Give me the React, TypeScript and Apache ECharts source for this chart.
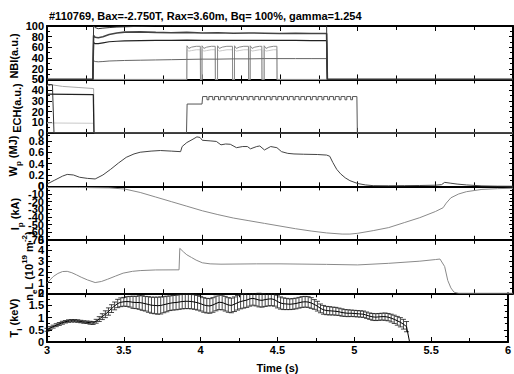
import React, { useEffect, useRef } from "react";
import * as echarts from "echarts";

const FONT = "'Liberation Sans', Arial, sans-serif";

// ---------- NBI (a.u.) ----------
const nbiT = [3.0, 3.295, 3.3, 3.31, 3.33, 3.36, 3.4, 3.45, 3.5, 3.6, 3.7, 3.8, 3.9, 4.0, 4.1, 4.2, 4.3, 4.4, 4.5, 4.6, 4.7, 4.8, 4.805, 6.0];
const nbiA = [0, 0, 100, 97, 95, 96, 97, 98, 98.5, 99.5, 101, 101, 101, 101, 101, 101, 101, 101, 101, 101, 101, 101, 0, 0];
const nbiB = [0, 0, 82, 79, 78, 80, 84, 87, 88.5, 89, 88, 87.5, 88, 87, 87.5, 86.5, 87, 86.5, 86, 86.5, 86, 86, 0, 0];
const nbiC = [0, 0, 69, 67, 67, 68.5, 70.5, 71.5, 72, 72.5, 73, 73, 73.5, 73, 73, 73, 73, 73, 73, 73, 72.8, 72.8, 0, 0];
const nbiD = [0, 0, 35, 33.5, 33, 33.5, 34.5, 35, 35.5, 36, 36.5, 37, 37.5, 38, 38, 38.5, 38.5, 39, 39, 39, 39, 39, 0, 0];
const nbiPulseOn = [3.901, 3.998, 4.098, 4.207, 4.308, 4.398];
const nbiPulseOff = [3.987, 4.083, 4.194, 4.297, 4.383, 4.48];
const pulseDt = [0, 0.012, 0.03, 0.06];
const pulseHi = [63, 58, 60.5, 62];
const pulseLo = [56, 53, 54, 55.5];

// ---------- ECH (a.u.) ----------
const echDarkT = [3.0, 3.298, 3.302, 6.0];
const echDarkV = [36.3, 35.8, 0, 0];
const echLightT = [3.0, 3.03, 3.1, 3.2, 3.3, 3.305, 6.0];
const echLightV = [44, 45, 43.5, 42.5, 41.5, 0, 0];
const echShortT = [3.0, 3.035, 3.045, 6.0];
const echShortV = [45.5, 45, 0, 0];
const echLowT = [3.0, 3.3, 3.305, 6.0];
const echLowV = [9.3, 9.0, 0, 0];
const echStartT = [3.0, 3.898, 3.902, 3.998, 4.002];
const echStartV = [0, 0, 27, 27, 34];
const echDips = [4.03, 4.067, 4.104, 4.141, 4.178, 4.215, 4.252, 4.289, 4.326, 4.363, 4.4, 4.437, 4.474, 4.511, 4.548, 4.585, 4.622, 4.659, 4.696, 4.733, 4.77, 4.807, 4.844, 4.881, 4.918, 4.955];
const echHigh = 34;
const echLow = 31;
const echDipWidth = 0.012;
const echEndT = [4.995, 4.998, 6.0];
const echEndV = [34, 0, 0];

// ---------- Wp (MJ) ----------
const wpT = [3.0, 3.05, 3.1, 3.13, 3.17, 3.21, 3.26, 3.31, 3.36, 3.41, 3.46, 3.51, 3.56, 3.6, 3.67, 3.73, 3.8, 3.86, 3.87, 3.9, 3.94, 3.965, 3.985, 4.0, 4.05, 4.09, 4.12, 4.15, 4.18, 4.22, 4.26, 4.29, 4.31, 4.35, 4.37, 4.4, 4.44, 4.48, 4.51, 4.55, 4.59, 4.65, 4.74, 4.8, 4.82, 4.84, 4.865, 4.89, 4.92, 4.95, 5.0, 5.05, 5.1, 5.2, 5.3, 5.4, 5.5, 5.54, 5.56, 5.6, 5.64, 5.7, 5.8, 5.9, 6.0];
const wpV = [0.04, 0.11, 0.18, 0.21, 0.2, 0.16, 0.14, 0.13, 0.2, 0.3, 0.41, 0.51, 0.57, 0.6, 0.62, 0.63, 0.62, 0.61, 0.7, 0.77, 0.83, 0.87, 0.86, 0.81, 0.8, 0.79, 0.73, 0.745, 0.74, 0.68, 0.7, 0.7, 0.66, 0.7, 0.71, 0.64, 0.7, 0.68, 0.61, 0.58, 0.57, 0.565, 0.56, 0.55, 0.53, 0.42, 0.3, 0.22, 0.15, 0.1, 0.05, 0.025, 0.012, 0.01, 0.012, 0.015, 0.02, 0.03, 0.07, 0.055, 0.04, 0.025, 0.008, 0.003, 0.002];

// ---------- Ip (kA) ----------
const ipT = [3.0, 3.2, 3.4, 3.5, 3.6, 3.7, 3.8, 3.9, 4.0, 4.1, 4.2, 4.3, 4.4, 4.5, 4.6, 4.7, 4.8, 4.9, 4.95, 5.0, 5.1, 5.2, 5.3, 5.4, 5.5, 5.55, 5.57, 5.6, 5.65, 5.7, 5.8, 5.9, 6.0];
const ipV = [-1.5, -1.5, -2, -3.5, -8, -14, -20, -26, -32, -37, -41.5, -45, -48.5, -52, -55.5, -58.5, -61, -62.5, -62.5, -61.5, -58, -54, -47.5, -41, -33, -28, -22, -15, -10, -7, -4, -3, -2.5];

// ---------- neL (1e19 m^-2) ----------
const neT = [3.0, 3.02, 3.04, 3.07, 3.1, 3.13, 3.16, 3.19, 3.22, 3.26, 3.31, 3.35, 3.39, 3.44, 3.49, 3.55, 3.6, 3.7, 3.85, 3.855, 3.88, 3.9, 3.93, 3.96, 4.0, 4.05, 4.12, 4.35, 4.5, 4.8, 5.0, 5.2, 5.4, 5.5, 5.53, 5.56, 5.58, 5.6, 5.62, 5.65, 6.0];
const neV = [0.94, 1.25, 1.56, 1.85, 2.03, 2.05, 1.92, 1.72, 1.5, 1.25, 1.0, 1.1, 1.31, 1.6, 1.88, 2.05, 2.12, 2.18, 2.19, 4.2, 3.85, 3.6, 3.35, 3.1, 2.85, 2.75, 2.72, 2.75, 2.75, 2.7, 2.65, 2.8, 3.0, 3.15, 3.2, 2.5, 1.2, 0.5, 0.1, 0, 0];

// ---------- Ti (keV) with error bars ----------
const tiT = [3.0, 3.02, 3.04, 3.06, 3.08, 3.1, 3.12, 3.14, 3.16, 3.18, 3.2, 3.22, 3.24, 3.26, 3.28, 3.3, 3.32, 3.34, 3.36, 3.38, 3.4, 3.42, 3.44, 3.46, 3.48, 3.5, 3.52, 3.54, 3.56, 3.58, 3.6, 3.62, 3.64, 3.66, 3.68, 3.7, 3.72, 3.74, 3.76, 3.78, 3.8, 3.82, 3.84, 3.86, 3.88, 3.9, 3.92, 3.94, 3.96, 3.98, 4.0, 4.02, 4.04, 4.06, 4.08, 4.1, 4.12, 4.14, 4.16, 4.18, 4.2, 4.22, 4.24, 4.26, 4.28, 4.3, 4.32, 4.34, 4.36, 4.38, 4.4, 4.42, 4.44, 4.46, 4.48, 4.5, 4.52, 4.54, 4.56, 4.58, 4.6, 4.62, 4.64, 4.66, 4.68, 4.7, 4.72, 4.74, 4.76, 4.78, 4.8, 4.82, 4.84, 4.86, 4.88, 4.9, 4.92, 4.94, 4.96, 4.98, 5.0, 5.02, 5.04, 5.06, 5.08, 5.1, 5.12, 5.14, 5.16, 5.18, 5.2, 5.22, 5.24, 5.26, 5.28, 5.3, 5.32, 5.34];
const tiV = [0.5, 0.57, 0.63, 0.69, 0.74, 0.79, 0.83, 0.86, 0.87, 0.87, 0.86, 0.84, 0.82, 0.81, 0.79, 0.78, 0.85, 0.94, 1.04, 1.14, 1.25, 1.37, 1.48, 1.58, 1.63, 1.65, 1.66, 1.65, 1.63, 1.62, 1.62, 1.6, 1.57, 1.54, 1.51, 1.5, 1.49, 1.5, 1.53, 1.56, 1.59, 1.61, 1.62, 1.64, 1.66, 1.67, 1.67, 1.66, 1.64, 1.61, 1.57, 1.52, 1.49, 1.48, 1.52, 1.58, 1.63, 1.62, 1.57, 1.52, 1.5, 1.55, 1.61, 1.66, 1.69, 1.72, 1.77, 1.79, 1.76, 1.72, 1.71, 1.74, 1.76, 1.77, 1.74, 1.66, 1.6, 1.57, 1.56, 1.55, 1.56, 1.58, 1.61, 1.64, 1.65, 1.64, 1.6, 1.54, 1.47, 1.38, 1.32, 1.29, 1.28, 1.27, 1.26, 1.24, 1.21, 1.19, 1.18, 1.18, 1.17, 1.16, 1.15, 1.14, 1.1, 1.06, 1.03, 1.02, 1.03, 1.04, 1.04, 1.02, 0.98, 0.93, 0.87, 0.81, 0.73, 0.63];
const tiE = [0.06, 0.06, 0.06, 0.06, 0.06, 0.06, 0.05, 0.05, 0.05, 0.05, 0.05, 0.05, 0.05, 0.05, 0.06, 0.06, 0.08, 0.1, 0.12, 0.14, 0.15, 0.16, 0.16, 0.17, 0.18, 0.18, 0.2, 0.22, 0.25, 0.25, 0.28, 0.3, 0.3, 0.32, 0.33, 0.34, 0.35, 0.35, 0.33, 0.32, 0.3, 0.3, 0.3, 0.3, 0.3, 0.3, 0.3, 0.3, 0.3, 0.3, 0.3, 0.3, 0.3, 0.3, 0.3, 0.3, 0.3, 0.3, 0.3, 0.3, 0.3, 0.3, 0.3, 0.3, 0.3, 0.3, 0.3, 0.28, 0.28, 0.28, 0.28, 0.28, 0.28, 0.28, 0.27, 0.26, 0.25, 0.24, 0.23, 0.22, 0.22, 0.22, 0.22, 0.22, 0.22, 0.22, 0.22, 0.2, 0.2, 0.18, 0.18, 0.17, 0.17, 0.16, 0.16, 0.15, 0.15, 0.14, 0.14, 0.13, 0.13, 0.13, 0.13, 0.13, 0.13, 0.13, 0.14, 0.14, 0.14, 0.14, 0.15, 0.15, 0.16, 0.17, 0.18, 0.19, 0.2, 0.21];
const tiEndT = [5.34, 5.36, 6.0];
const tiEndV = [0.63, 0.0, 0.0];

// ---------- axes / tick labels ----------
const xTicks = { min: 3, max: 6, interval: 0.5 };
const yScales = [
  { min: 0, max: 100, interval: 20 },
  { min: 0, max: 50, interval: 10 },
  { min: 0, max: 0.94, interval: 0.2 },
  { min: -70, max: 0, interval: 10 },
  { min: 0, max: 5, interval: 1 },
  { min: 0, max: 2, interval: 0.5 },
];
const nbiTickLabels = ["0", "20", "40", "60", "80", "100"];
const echTickLabels = ["0", "10", "20", "30", "40", "50"];
const wpTickLabels = ["0", "0.2", "0.4", "0.6", "0.8"];
const ipTickLabels = ["-70", "-60", "-50", "-40", "-30", "-20", "-10", "0"];
const neTickLabels = ["0", "1", "2", "3", "4", "5"];
const tiTickLabels = ["0", "0.5", "1", "1.5", "2"];
const yTickLabels = [nbiTickLabels, echTickLabels, wpTickLabels, ipTickLabels, neTickLabels, tiTickLabels];
const titleText = "#110769, Bax=-2.750T, Rax=3.60m, Bq= 100%, gamma=1.254";

const zip = (t: number[], v: number[]) => t.map((x, i) => [x, v[i]]);

function buildPulses(levels: number[]) {
  const out: number[][] = [[3.0, 0], [nbiPulseOn[0] - 0.001, 0]];
  nbiPulseOn.forEach((on, i) => {
    out.push([on, 0]);
    pulseDt.forEach((dt, k) => out.push([on + dt, levels[k]]));
    out.push([nbiPulseOff[i], levels[levels.length - 1]]);
    out.push([nbiPulseOff[i] + 0.001, 0]);
  });
  out.push([6.0, 0]);
  return out;
}

function buildEch() {
  const out: number[][] = zip(echStartT, echStartV);
  echDips.forEach((d) => {
    out.push([d, echHigh]);
    out.push([d, echLow]);
    out.push([d + echDipWidth, echLow]);
    out.push([d + echDipWidth, echHigh]);
  });
  return out.concat(zip(echEndT, echEndV));
}

const PANEL_TOP = 26;
const PANEL_H = 53.45;

export default function App() {
  const ref = useRef<HTMLDivElement>(null);
  useEffect(() => {
    const chart = echarts.init(ref.current!, null, { renderer: "svg" });
    const grids = yScales.map((_, i) => ({
      left: 47,
      right: 1,
      top: PANEL_TOP + i * PANEL_H,
      height: PANEL_H,
    }));
    const labelStyle = { fontFamily: FONT, fontWeight: "bold" as const, fontSize: 11, color: "#000" };
    const axisLine = { show: true, onZero: false, lineStyle: { color: "#000", width: 2 } };
    const xAxes: any[] = [];
    const yAxes: any[] = [];
    yScales.forEach((s, i) => {
      const last = i === yScales.length - 1;
      xAxes.push({
        type: "value",
        gridIndex: i,
        position: "bottom",
        ...xTicks,
        axisLine,
        axisTick: { show: true, inside: true, length: 5, lineStyle: { color: "#000", width: 1 } },
        minorTick: { show: true, splitNumber: 2, length: 4, lineStyle: { color: "#000", width: 1 } },
        axisLabel: { show: last, margin: 2, ...labelStyle },
        splitLine: { show: false },
        name: last ? "Time (s)" : "",
        nameLocation: "middle",
        nameGap: 20,
        nameTextStyle: labelStyle,
      });
    });
    yScales.forEach((s, i) => {
      xAxes.push({
        type: "value",
        gridIndex: i,
        position: "top",
        ...xTicks,
        axisLine,
        axisTick: { show: true, inside: true, length: 5, lineStyle: { color: "#000", width: 1 } },
        minorTick: { show: true, splitNumber: 2, length: 4, lineStyle: { color: "#000", width: 1 } },
        axisLabel: { show: false },
        splitLine: { show: false },
      });
    });
    yScales.forEach((s, i) => {
      yAxes.push({
        type: "value",
        gridIndex: i,
        position: "left",
        ...s,
        axisLine,
        axisTick: { show: true, inside: true, length: 5, lineStyle: { color: "#000", width: 1 } },
        minorTick: { show: true, splitNumber: 2, length: 3, lineStyle: { color: "#000", width: 1 } },
        axisLabel: { show: false },
        splitLine: { show: false },
      });
    });
    yScales.forEach((s, i) => {
      yAxes.push({
        type: "value",
        gridIndex: i,
        position: "right",
        ...s,
        axisLine,
        axisTick: { show: true, inside: true, length: 4, lineStyle: { color: "#000", width: 1 } },
        minorTick: { show: true, splitNumber: 2, length: 3, lineStyle: { color: "#000", width: 1 } },
        axisLabel: { show: false },
        splitLine: { show: false },
      });
    });

    const line = (panel: number, data: number[][], color: string, width = 1, z = 2) => ({
      type: "line",
      xAxisIndex: panel,
      yAxisIndex: panel,
      data,
      showSymbol: false,
      symbol: "none",
      clip: true,
      z,
      lineStyle: { color, width },
    });

    // y tick labels placed through each panel's own y scale
    const tickLabelSeries = yTickLabels.map((labels, i) => ({
      type: "custom",
      xAxisIndex: i,
      yAxisIndex: i,
      z: 20,
      silent: true,
      data: labels.map((l) => [xTicks.min, Number(l), l]),
      renderItem: (params: any, api: any) => {
        const p = api.coord([api.value(0), api.value(1)]);
        return {
          type: "text",
          x: p[0] - 3,
          y: p[1],
          style: {
            text: labels[params.dataIndex],
            align: "right",
            verticalAlign: "middle",
            fill: "#000",
            font: `bold 11px ${FONT}`,
          },
        };
      },
    }));

    const tiBars = tiT.map((t, i) => [t, tiV[i], tiE[i]]);

    const rich = {
      b: { fontFamily: FONT, fontWeight: "bold", fontSize: 11, color: "#000", lineHeight: 18, verticalAlign: "middle" },
      s: { fontFamily: FONT, fontWeight: "bold", fontSize: 8, color: "#000", lineHeight: 18, verticalAlign: "bottom" },
      u: { fontFamily: FONT, fontWeight: "bold", fontSize: 8, color: "#000", lineHeight: 18, verticalAlign: "top" },
    };
    const yName = (x: number, y: number, text: string) => ({
      type: "text",
      x,
      y,
      rotation: Math.PI / 2,
      z: 100,
      style: { text, rich, align: "center", verticalAlign: "middle", fill: "#000", font: `bold 11px ${FONT}` },
    });

    const option: any = {
      animation: false,
      backgroundColor: "#fff",
      textStyle: { fontFamily: FONT },
      title: {
        text: titleText,
        left: 44,
        top: 5,
        textStyle: { fontFamily: FONT, fontWeight: "bold", fontSize: 11, color: "#000" },
      },
      grid: grids,
      xAxis: xAxes,
      yAxis: yAxes,
      graphic: [
        yName(14, 56, "{b|NBI(a.u.)}"),
        yName(17, 108, "{b|ECH(a.u.)}"),
        yName(13, 156, "{b|W}{s|p}{b| (MJ)}"),
        yName(15, 214, "{b|I}{s|p}{b| (kA)}"),
        yName(29, 266, "{b|n}{s|e}{b|L (10}{u|19}{b| m}{u|-2}{b|)}"),
        yName(14, 318, "{b|T}{s|i}{b| (keV)}"),
      ],
      series: [
        line(0, buildPulses(pulseLo), "#c8c8c8", 1),
        line(0, buildPulses(pulseHi), "#8a8a8a", 1),
        line(0, zip(nbiT, nbiD), "#666", 1),
        line(0, zip(nbiT, nbiC), "#222", 1.2),
        line(0, zip(nbiT, nbiB), "#444", 1.6),
        line(0, zip(nbiT, nbiA), "#333", 1),
        line(1, zip(echLowT, echLowV), "#c8c8c8", 1),
        line(1, zip(echLightT, echLightV), "#aaa", 1),
        line(1, zip(echShortT, echShortV), "#333", 1),
        line(1, zip(echDarkT, echDarkV), "#222", 1.2),
        line(1, buildEch(), "#555", 1),
        line(2, zip(wpT, wpV), "#444", 1),
        line(3, zip(ipT, ipV), "#8a8a8a", 1),
        line(4, zip(neT, neV), "#8a8a8a", 1),
        {
          type: "custom",
          xAxisIndex: 5,
          yAxisIndex: 5,
          data: tiBars,
          z: 3,
          renderItem: (params: any, api: any) => {
            const t = api.value(0);
            const v = api.value(1);
            const e = api.value(2);
            const cs = params.coordSys;
            const top = api.coord([t, v + e]);
            const bot = api.coord([t, v - e]);
            const yTop = Math.max(top[1], cs.y);
            const yBot = Math.min(bot[1], cs.y + cs.height);
            const st = { stroke: "#1a1a1a", lineWidth: 0.8 };
            const children: any[] = [
              { type: "line", shape: { x1: top[0], y1: yTop, x2: top[0], y2: yBot }, style: st },
              { type: "line", shape: { x1: bot[0] - 2.5, y1: yBot, x2: bot[0] + 2.5, y2: yBot }, style: st },
            ];
            if (top[1] >= cs.y) {
              children.push({ type: "line", shape: { x1: top[0] - 2.5, y1: yTop, x2: top[0] + 2.5, y2: yTop }, style: st });
            }
            return { type: "group", children };
          },
        },
        line(5, zip(tiT, tiV), "#000", 1, 4),
        line(5, zip(tiEndT, tiEndV), "#000", 1, 4),
        ...tickLabelSeries,
      ],
    };
    chart.setOption(option);
    return () => chart.dispose();
  }, []);
  return (
    <div
      ref={ref}
      style={{ position: "absolute", left: 0, top: 0, width: 514, height: 374, background: "#fff" }}
    />
  );
}
